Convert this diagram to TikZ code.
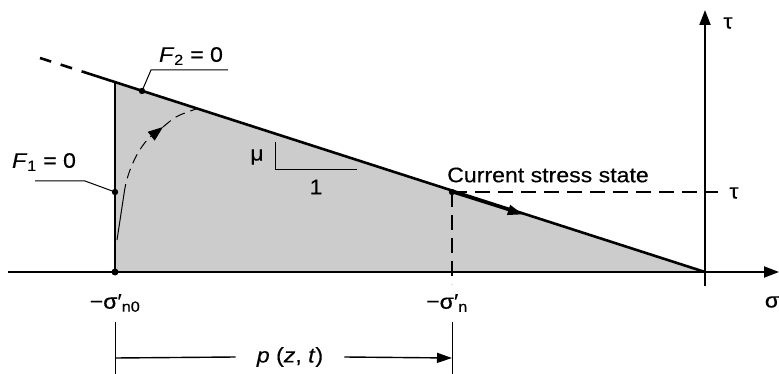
\documentclass[tikz,border=0pt]{standalone}
\usepackage{fontspec}
\setmainfont{Liberation Sans}[FakeStretch=1.1,FakeBold=0.4]
\usetikzlibrary{arrows.meta,calc}

\begin{document}
\begin{tikzpicture}[x=1pt,y=-1pt,
  every node/.style={font=\fontsize{21}{24}\selectfont,inner sep=1pt},
  axis/.style={line width=2pt,-{Triangle[length=15pt,width=11pt]}},
  failure/.style={line width=2.6pt},
  leader/.style={line width=1pt},
  guide/.style={line width=1.1pt,dash pattern=on 15pt off 8pt}]
  \useasboundingbox (0,0) rectangle (779,374);
  % points of the stress path
  \coordinate (O) at (705,272);
  \coordinate (A) at (115,272);
  \coordinate (T) at (115,82);
  \coordinate (P1) at (115,192);
  \coordinate (P2) at (142,91);
  \coordinate (S) at (452,192);
  \coordinate (Fd) at (93,75);
  \coordinate (Fe) at (40,58);
  \fill[gray!40] (A) -- (T) -- (O) -- cycle;
  % axes
  \coordinate (xl) at (8,272);
  \coordinate (xr) at (779,272);
  \coordinate (yb) at (705,286);
  \coordinate (yt) at (705,10);
  \draw[axis] (xl) -- (xr);
  \draw[axis] (yb) -- (yt);
  \node (tau) at (728,23) {τ};
  \node (sig) at (772,302) {σ};
  % failure line
  \draw[failure] (O) -- (Fd);
  \draw[failure,dash pattern=on 12pt off 10pt] (Fd) -- (Fe);
  \draw[line width=2pt] (A) -- (T);
  \draw[failure,-{Triangle[length=15pt,width=10pt]}] (S) -- ($(S)!0.28!(O)$);
  % stress path from F1 to failure
  \coordinate (c0) at (117,240);
  \coordinate (cw) at (124,194);
  \coordinate (c1) at (163,127);
  \coordinate (c2) at (196,109);
  \draw[leader] (c0) -- (cw);
  \draw[leader,dash pattern=on 10pt off 6pt,-{Triangle[length=15pt,width=11pt]}]
    (cw) .. controls (127,170) and (140,145) .. (c1);
  \draw[leader,dash pattern=on 10pt off 6pt] (c1) .. controls (176,116) .. (c2);
  \fill (A) circle (3.5pt) (P1) circle (3.2pt) (P2) circle (3.2pt) (S) circle (3.2pt);
  % F labels
  \node (f2) at (191,56) {\textit{F}\textsubscript{2} = 0};
  \coordinate (l2) at (151,70);
  \coordinate (l2e) at (228,70);
  \draw[leader] (P2) -- (l2) -- (l2e);
  \node (f1) at (44,162) {\textit{F}\textsubscript{1} = 0};
  \coordinate (l1) at (85,181);
  \coordinate (l1e) at (35,181);
  \draw[leader] (P1) -- (l1) -- (l1e);
  % slope
  \coordinate (m1) at (275,142);
  \coordinate (m2) at (275,170);
  \coordinate (m3) at (357,170);
  \draw[leader] (m1) -- (m2) -- (m3);
  \node (mu) at (257,157) {μ};
  \node (one) at (316,187) {1};
  % current stress state
  \node (cur) at (548,175) {Current stress state};
  \coordinate (Sr) at (718,192);
  \coordinate (Sb) at (452,284);
  \draw[guide] (S) -- (Sr);
  \draw[guide] (S) -- (Sb);
  \node (taur) at (734,193) {τ};
  % stress values
  \node (sn0) at (115,303) {−σ′\textsubscript{n0}};
  \node (sn) at (447,303) {−σ′\textsubscript{n}};
  % p(z,t)
  \coordinate (d1) at (115,322);
  \coordinate (d1b) at (115,374);
  \coordinate (d2) at (452,322);
  \coordinate (d2b) at (452,374);
  \draw[leader] (d1) -- (d1b);
  \draw[leader] (d2) -- (d2b);
  \node (p) at (290,357) {\textit{p} (\textit{z}, \textit{t})};
  \coordinate (pl) at (115,358);
  \coordinate (pr) at (452,358);
  \draw[line width=1.4pt] (pl) -- ($(p.west)+(-20,0)$);
  \draw[line width=1.4pt,-{Triangle[length=15pt,width=10pt]}] ($(p.east)+(20,0)$) -- (pr);
\end{tikzpicture}
\end{document}
